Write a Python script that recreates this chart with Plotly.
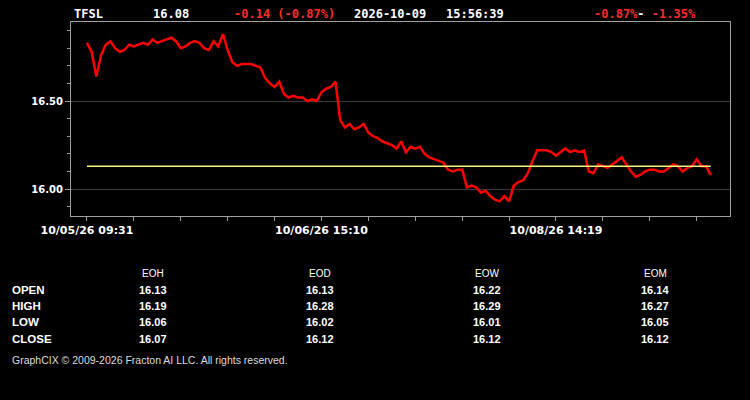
import plotly.graph_objects as go

# ---- data ----
symbol = "TFSL"
last_price = "16.08"
change_text = "-0.14 (-0.87%)"
date_text = "2026-10-09"
time_text = "15:56:39"
range_lo = "-0.87%"
range_hi = "-1.35%"

prices = [
    16.83, 16.78, 16.64, 16.76, 16.82, 16.84, 16.80, 16.78, 16.79, 16.82,
    16.81, 16.82, 16.83, 16.82, 16.85, 16.83, 16.84, 16.85, 16.86, 16.84,
    16.80, 16.81, 16.83, 16.84, 16.83, 16.80, 16.79, 16.84, 16.81, 16.88,
    16.79, 16.72, 16.70, 16.71, 16.71, 16.71, 16.70, 16.69, 16.63, 16.60,
    16.58, 16.61, 16.54, 16.52, 16.53, 16.52, 16.52, 16.50, 16.51, 16.50,
    16.55, 16.57, 16.58, 16.61, 16.39, 16.35, 16.37, 16.34, 16.35, 16.37,
    16.32, 16.30, 16.29, 16.27, 16.26, 16.25, 16.23, 16.27, 16.21, 16.24,
    16.23, 16.24, 16.20, 16.18, 16.17, 16.16, 16.15, 16.11, 16.10, 16.11,
    16.11, 16.01, 16.02, 16.01, 15.98, 15.99, 15.96, 15.94, 15.93, 15.96,
    15.93, 16.02, 16.04, 16.05, 16.09, 16.16, 16.22, 16.22, 16.22, 16.21,
    16.19, 16.21, 16.23, 16.21, 16.22, 16.21, 16.22, 16.10, 16.09, 16.14,
    16.13, 16.12, 16.14, 16.16, 16.18, 16.14, 16.10, 16.07, 16.08, 16.10,
    16.11, 16.11, 16.10, 16.10, 16.12, 16.14, 16.13, 16.10, 16.12, 16.13,
    16.17, 16.13, 16.13, 16.08,
]
reference_level = 16.13

x_tick_step = 10
x_tick_labels = {0: "10/05/26 09:31", 50: "10/06/26 15:10", 100: "10/08/26 14:19"}

y_tick_vals = [16.0, 16.5]
y_tick_text = ["16.00", "16.50"]

table_cols = ["EOH", "EOD", "EOW", "EOM"]
table_rows = ["OPEN", "HIGH", "LOW", "CLOSE"]
open_vals = ["16.13", "16.13", "16.22", "16.14"]
high_vals = ["16.19", "16.28", "16.29", "16.27"]
low_vals = ["16.06", "16.02", "16.01", "16.05"]
close_vals = ["16.07", "16.12", "16.12", "16.12"]
footer = "GraphCIX © 2009-2026 Fracton AI LLC. All rights reserved."

# ---- layout geometry (pixels) ----
W, H = 750, 400
L, R, T, B = 71, 730, 22, 216
PW, PH = R - L, B - T


def px(x):
    return (x - L) / PW


def py(y):
    return (B - y) / PH


xs = list(range(len(prices)))
fig = go.Figure()
fig.add_trace(go.Scatter(x=xs, y=prices, mode="lines",
                         line=dict(color="#ff0000", width=2.5),
                         hoverinfo="skip", showlegend=False))
fig.add_trace(go.Scatter(x=[xs[0], xs[-1]], y=[reference_level, reference_level],
                         mode="lines", line=dict(color="#f4f47a", width=1.5),
                         hoverinfo="skip", showlegend=False))

tickvals = list(range(0, len(prices), x_tick_step))
ticktext = [x_tick_labels.get(v, "") for v in tickvals]

RED = "#ff2a2a"
WHITE = "#ffffff"
mono = "DejaVu Sans Mono"
ann = []
hy = py(14)
def hdr(x, text, color):
    ann.append(dict(x=px(x), y=hy, xref="paper", yref="paper", text=text,
                    showarrow=False, xanchor="left", yanchor="middle",
                    font=dict(family=mono, size=12, color=color, weight="bold")))

hdr(72, symbol, WHITE)
hdr(151, last_price, WHITE)
hdr(232, change_text, RED)
hdr(352, date_text, WHITE)
hdr(444, time_text, WHITE)
hdr(592, f"<span style='color:{RED}'>{range_lo}</span>- <span style='color:{RED}'>{range_hi}</span>", WHITE)

tfont = "Liberation Sans"
col_x = [153, 320, 487, 655]
row_y = [290, 306, 322, 339]
for cx, c in zip(col_x, table_cols):
    ann.append(dict(x=px(cx), y=py(273), xref="paper", yref="paper", text=c,
                    showarrow=False, xanchor="center", yanchor="middle",
                    font=dict(family=tfont, size=10, color=WHITE)))
rows_vals = [open_vals, high_vals, low_vals, close_vals]
for ry, rname, vals in zip(row_y, table_rows, rows_vals):
    ann.append(dict(x=px(10), y=py(ry), xref="paper", yref="paper", text=f"<b>{rname}</b>",
                    showarrow=False, xanchor="left", yanchor="middle",
                    font=dict(family=tfont, size=11.5, color=WHITE)))
    for cx, v in zip(col_x, vals):
        ann.append(dict(x=px(cx), y=py(ry), xref="paper", yref="paper", text=f"<b>{v}</b>",
                        showarrow=False, xanchor="center", yanchor="middle",
                        font=dict(family=tfont, size=11, color=WHITE)))
ann.append(dict(x=px(10), y=py(360), xref="paper", yref="paper", text=footer,
                showarrow=False, xanchor="left", yanchor="middle",
                font=dict(family="Liberation Sans", size=10.5, color="#dddddd")))

fig.update_layout(
    width=W, height=H,
    margin=dict(l=L, r=W - R, t=T, b=H - B),
    paper_bgcolor="#000000", plot_bgcolor="#000000",
    annotations=ann,
    showlegend=False,
    xaxis=dict(range=[-3.4, 137.1], tickvals=tickvals, ticktext=ticktext,
               ticks="outside", ticklen=4, tickcolor="#999999",
               showgrid=False, zeroline=False,
               showline=True, linecolor="#a0a0a0", linewidth=1, mirror=True,
               tickfont=dict(family="DejaVu Sans", size=11, color=WHITE, weight="bold")),
    yaxis=dict(range=[15.847, 16.949], tickvals=y_tick_vals, ticktext=y_tick_text,
               ticks="outside", ticklen=5, tickcolor="#999999",
               showgrid=True, gridcolor="#3a3a3a", gridwidth=1, zeroline=False,
               showline=True, linecolor="#a0a0a0", linewidth=1, mirror=True,
               minor=dict(tickvals=[15.9, 16.1, 16.2, 16.3, 16.4, 16.6, 16.7, 16.8, 16.9],
                          ticks="outside", ticklen=3, tickcolor="#999999", showgrid=False),
               tickfont=dict(family="DejaVu Sans", size=10, color=WHITE, weight="bold")),
)

fig.write_html("out.html")
